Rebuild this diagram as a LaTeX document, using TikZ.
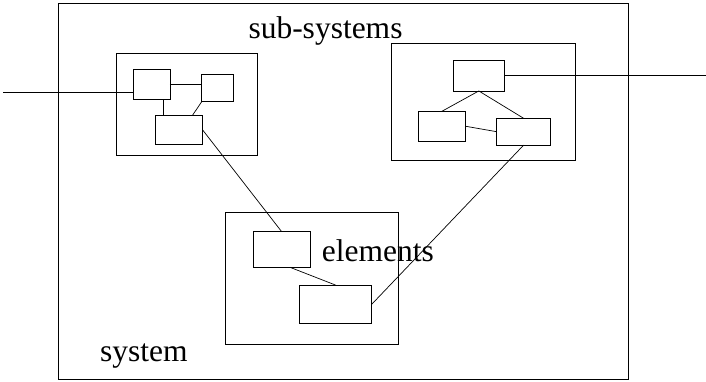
\documentclass[tikz,border=0pt]{standalone}
\usepackage{fontspec}
\setmainfont{Liberation Serif}
\begin{document}
\begin{tikzpicture}[x=1pt,y=-1pt,
  grp/.style={draw,line width=0.9pt,inner sep=0pt,outer sep=0pt},
  part/.style={draw,line width=0.9pt,inner sep=0pt,outer sep=0pt},
  link/.style={line width=0.7pt},
  lbl/.style={anchor=base west,inner sep=0pt,font=\fontsize{31.5}{36}\selectfont}
]
  \useasboundingbox (0,0) rectangle (706,381);
  \node[grp,minimum width=570pt,minimum height=376pt] (sys) at (343,191) {};
  \node[grp,minimum width=141pt,minimum height=102pt] (subL) at (186.5,104) {};
  \node[grp,minimum width=183.3pt,minimum height=116.7pt] (subR) at (483.3,101.7) {};
  \node[grp,minimum width=173.3pt,minimum height=131.8pt] (elems) at (311.7,278.6) {};
  \node[part,minimum width=36.3pt,minimum height=30pt] (a) at (151.8,84.3) {};
  \node[part,minimum width=31.6pt,minimum height=27.4pt] (b) at (217.5,88) {};
  \node[part,minimum width=46.6pt,minimum height=29pt] (c) at (179,129.5) {};
  \node[part,minimum width=51pt,minimum height=30.3pt] (d) at (478.8,75.8) {};
  \node[part,minimum width=47pt,minimum height=29.7pt] (e) at (441.8,126.2) {};
  \node[part,minimum width=54pt,minimum height=26.7pt] (f) at (523.7,131.7) {};
  \node[part,minimum width=56.7pt,minimum height=35.6pt] (g) at (281.7,249.5) {};
  \node[part,minimum width=72.4pt,minimum height=38.5pt] (h) at (335.5,304.3) {};
  \coordinate (inL) at (3,92.3);
  \coordinate (outR) at (706,75.8);
  \node[lbl] (subtxt) at (248.3,38.3) {sub-systems};
  \node[lbl] (eltxt) at (321.7,261.7) {elements};
  \node[lbl] (systxt) at (100,361.7) {system};
  \draw[link] (inL) -- (inL -| a.west);
  \draw[link] (a.east) -- (a.east -| b.west);
  \draw[link] ([xshift=11.2pt]a.south) -- ([xshift=-16pt]c.north);
  \draw[link] (b.south west) -- ([xshift=13.7pt]c.north);
  \draw[link] (c.east) -- (g.north);
  \draw[link] (d.east) -- (outR);
  \draw[link] (d.south) -- (e.north);
  \draw[link] (d.south) -- (f.north);
  \draw[link] (e.east) -- (f.west);
  \draw[link] (f.south) -- (h.east);
  \draw[link] ([xshift=8.3pt]g.south) -- (h.north);
\end{tikzpicture}
\end{document}
